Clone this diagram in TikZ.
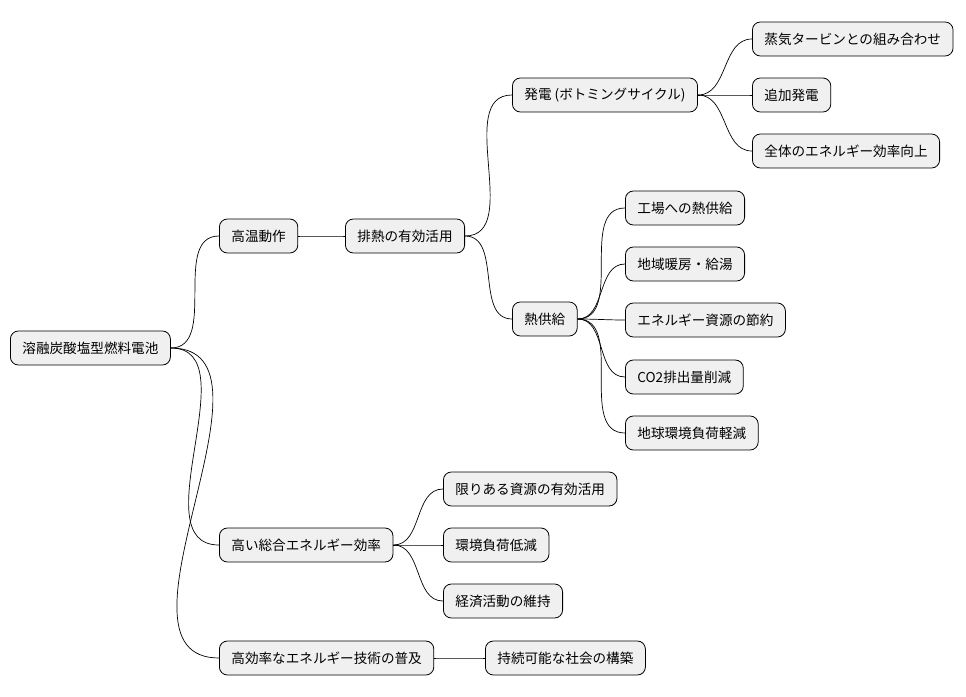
\documentclass[tikz,border=0pt]{standalone}
\usepackage{fontspec}
\setmainfont{Noto Sans CJK JP}
\begin{document}
\begin{tikzpicture}[x=1pt,y=-1pt,
  n/.style={draw=black,fill=black!6,rounded corners=8pt,minimum height=34pt,inner xsep=12pt,anchor=west,font=\fontsize{13.6}{15}\selectfont,line width=0.8pt},
  e/.style={draw=black,line width=0.7pt}]
\useasboundingbox (0,0) rectangle (966,696);
\node[n] (r) at (10,348) {溶融炭酸塩型燃料電池};
\node[n] (a) at (219,236) {高温動作};
\node[n] (a1) at (345,236) {排熱の有効活用};
\node[n] (b) at (512,95) {発電 (ボトミングサイクル)};
\node[n] (b1) at (752,39) {蒸気タービンとの組み合わせ};
\node[n] (b2) at (752,95) {追加発電};
\node[n] (b3) at (752,151) {全体のエネルギー効率向上};
\node[n] (h) at (512,319) {熱供給};
\node[n] (h1) at (625,208) {工場への熱供給};
\node[n] (h2) at (625,264) {地域暖房・給湯};
\node[n] (h3) at (625,320) {エネルギー資源の節約};
\node[n] (h4) at (625,377) {CO2排出量削減};
\node[n] (h5) at (625,433) {地球環境負荷軽減};
\node[n] (c) at (219,545) {高い総合エネルギー効率};
\node[n] (c1) at (443,489) {限りある資源の有効活用};
\node[n] (c2) at (443,545) {環境負荷低減};
\node[n] (c3) at (443,601) {経済活動の維持};
\node[n] (d) at (219,658) {高効率なエネルギー技術の普及};
\node[n] (d1) at (485,658) {持続可能な社会の構築};
\foreach \p/\c in {r/a,r/c,r/d,a/a1,a1/b,a1/h,b/b1,b/b2,b/b3,h/h1,h/h2,h/h3,h/h4,h/h5,c/c1,c/c2,c/c3,d/d1}
  \draw[e] (\p.east) to[out=0,in=180] (\c.west);
\end{tikzpicture}
\end{document}
